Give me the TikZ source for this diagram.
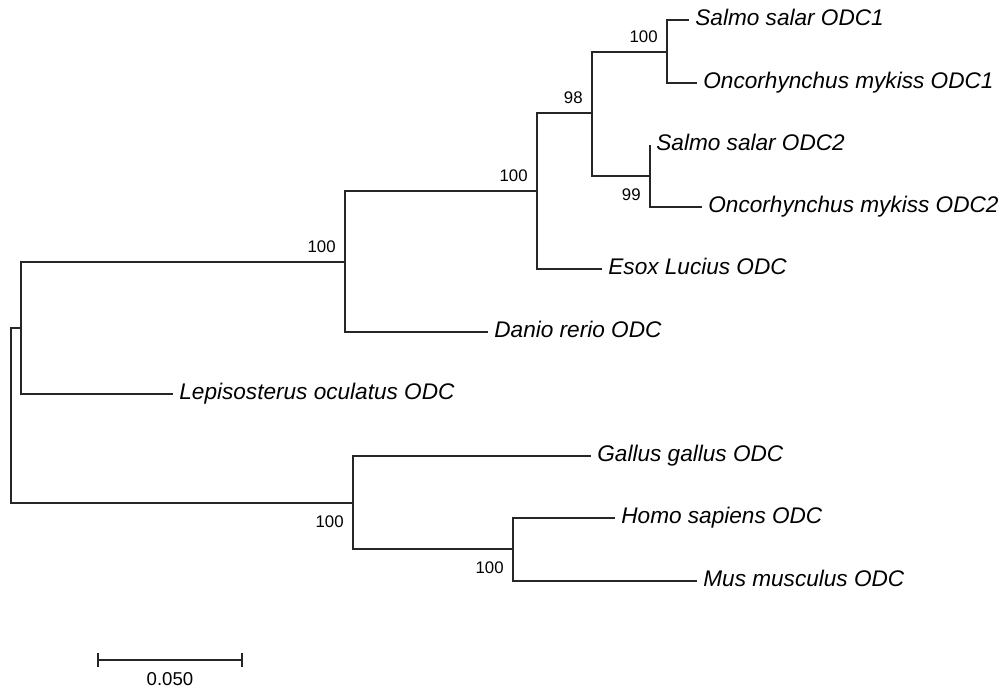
\documentclass[tikz,border=0pt]{standalone}
\usepackage{fontspec}
\newfontfamily\treefont{Liberation Sans}
\usetikzlibrary{arrows.meta}

\begin{document}
\begin{tikzpicture}[
        x=0.5pt, y=-0.5pt,
        branch/.style={draw=black!85, line width=0.8pt},
        leaf/.style={anchor=west, inner xsep=3pt, inner ysep=0pt, text height=8.8pt, text depth=3pt, font=\treefont\fontsize{11.3}{13}\selectfont\itshape},
        bsup/.style={anchor=south east, inner sep=0pt, xshift=-4.5pt, yshift=4.5pt, font=\treefont\fontsize{8.4}{10}\selectfont},
        bsdown/.style={anchor=north east, inner sep=0pt, xshift=-4.5pt, yshift=-6pt, font=\treefont\fontsize{8.4}{10}\selectfont},
    ]
        \useasboundingbox (0,0) rectangle (1003,691);

        % Internal nodes
        \coordinate (root) at (11,415);
        \coordinate (fishes) at (21,328);
        \coordinate (teleost) at (345,262);
        \coordinate (salmEsox) at (537,191);
        \coordinate (salmonid) at (592,113);
        \coordinate (odcA) at (667,52);
        \coordinate (odcB) at (650,176);
        \coordinate (tetra) at (353,503);
        \coordinate (mammal) at (513,549);

        % Leaves
        \node[leaf] (salODC1) at (689,20) {Salmo salar ODC1};
        \node[leaf] (oncODC1) at (697,83) {Oncorhynchus mykiss ODC1};
        \node[leaf] (salODC2) at (650,145) {Salmo salar ODC2};
        \node[leaf] (oncODC2) at (702,207) {Oncorhynchus mykiss ODC2};
        \node[leaf] (esox) at (602,269) {Esox Lucius ODC};
        \node[leaf] (danio) at (488,332) {Danio rerio ODC};
        \node[leaf] (lepi) at (173,394) {Lepisosterus oculatus ODC};
        \node[leaf] (gallus) at (591,456) {Gallus gallus ODC};
        \node[leaf] (homo) at (615,518) {Homo sapiens ODC};
        \node[leaf] (mus) at (697,581) {Mus musculus ODC};

        % Branches
        \draw[branch] (root) |- (fishes);
        \draw[branch] (root) |- (tetra);
        \draw[branch] (fishes) |- (teleost);
        \draw[branch] (fishes) |- (lepi.west);
        \draw[branch] (teleost) |- (salmEsox);
        \draw[branch] (teleost) |- (danio.west);
        \draw[branch] (salmEsox) |- (salmonid);
        \draw[branch] (salmEsox) |- (esox.west);
        \draw[branch] (salmonid) |- (odcA);
        \draw[branch] (salmonid) |- (odcB);
        \draw[branch] (odcA) |- (salODC1.west);
        \draw[branch] (odcA) |- (oncODC1.west);
        \draw[branch] (odcB) |- (salODC2.west);
        \draw[branch] (odcB) |- (oncODC2.west);
        \draw[branch] (tetra) |- (gallus.west);
        \draw[branch] (tetra) |- (mammal);
        \draw[branch] (mammal) |- (homo.west);
        \draw[branch] (mammal) |- (mus.west);

        % Bootstrap values
        \node[bsup] (bsTeleost) at (teleost) {100};
        \node[bsup] (bsSalmEsox) at (salmEsox) {100};
        \node[bsup] (bsSalmonid) at (salmonid) {98};
        \node[bsup] (bsOdcA) at (odcA) {100};
        \node[bsdown] (bsOdcB) at (odcB) {99};
        \node[bsdown] (bsTetra) at (tetra) {100};
        \node[bsdown] (bsMammal) at (mammal) {100};

        % Scale bar
        \coordinate (scaleL) at (97,660);
        \coordinate (scaleR) at (243,660);
        \draw[branch, {Bar[width=7pt]}-{Bar[width=7pt]}] (scaleL) -- (scaleR);
        \node[font=\treefont\fontsize{9.3}{11}\selectfont, inner sep=0pt] (scaleLbl) at (170,679) {0.050};
    \end{tikzpicture}
\end{document}
